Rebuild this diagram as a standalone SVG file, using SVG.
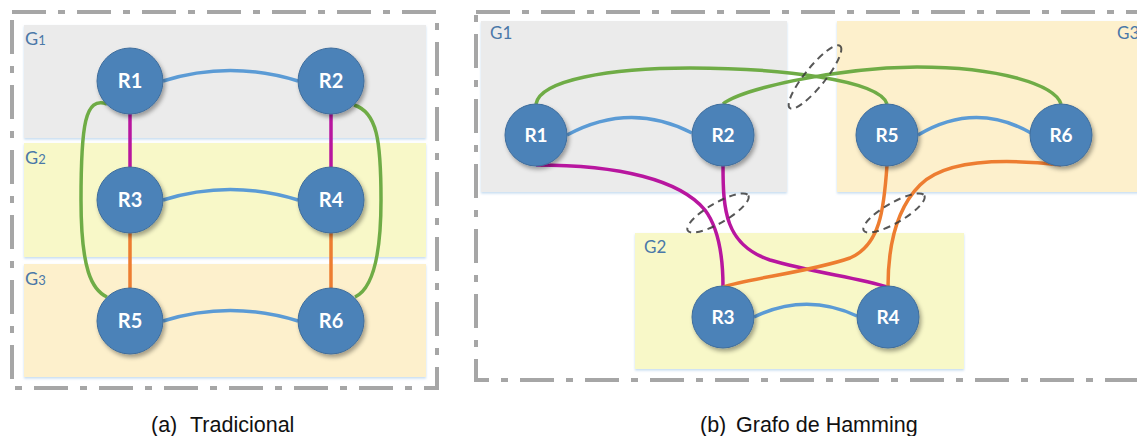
<svg xmlns="http://www.w3.org/2000/svg" width="1137" height="436" viewBox="0 0 1137 436">
  <style>
    .frame { fill: none; stroke: #a6a6a6; stroke-width: 4; stroke-dasharray: 34 12 7 12; }
    .band { filter: url(#bandShadow); }
    .g1 { fill: #ebebeb; }
    .g2 { fill: #f8f8c8; }
    .g3 { fill: #fdf0cc; }
    .glabel { font-family: Lato, "Open Sans", sans-serif; fill: #4a78a8; }
    .node circle { fill: #4b82b8; stroke: #3f6d9c; stroke-width: 1; filter: url(#nodeShadow); }
    .node text { font-family: Lato, "Open Sans", sans-serif; font-weight: bold; fill: #ffffff; text-anchor: middle; }
    .link { fill: none; stroke-width: 3.5; stroke-linecap: butt; }
    .blue { stroke: #5b9bd5; }
    .green { stroke: #6fac46; }
    .magenta { stroke: #b8169f; }
    .orange { stroke: #ed7d31; }
    .ring { fill: none; stroke: #3a3a3a; stroke-width: 2; stroke-dasharray: 7 5; opacity: 0.85; }
    .caption { font-family: "Liberation Sans", Arial, sans-serif; font-size: 21.5px; fill: #111111; }
  </style>
  <defs>
    <filter id="nodeShadow" x="-30%" y="-30%" width="170%" height="170%">
      <feDropShadow dx="2" dy="3" stdDeviation="2" flood-color="#000000" flood-opacity="0.35"/>
    </filter>
    <filter id="bandShadow" x="-5%" y="-10%" width="110%" height="125%">
      <feDropShadow dx="0" dy="1.5" stdDeviation="1" flood-color="#9dc3e6" flood-opacity="0.6"/>
    </filter>
  </defs>

  <rect width="1137" height="436" fill="#ffffff"/>

  <!-- (a) traditional layout -->
  <g id="panel-a">
    <rect class="frame" x="12" y="12" width="425" height="376"/>
    <g id="a-group-g1">
      <rect class="band g1" x="24" y="25" width="402" height="113"/>
      <text class="glabel" x="25" y="45" font-size="18">G<tspan font-size="13">1</tspan></text>
    </g>
    <g id="a-group-g2">
      <rect class="band g2" x="24" y="143" width="402" height="114"/>
      <text class="glabel" x="25" y="164" font-size="18">G<tspan font-size="13">2</tspan></text>
    </g>
    <g id="a-group-g3">
      <rect class="band g3" x="24" y="264" width="402" height="113"/>
      <text class="glabel" x="25" y="285" font-size="18">G<tspan font-size="13">3</tspan></text>
    </g>

    <g id="a-connectors">
      <path class="link blue" d="M163,81 Q230,60 298,81"/>
      <path class="link blue" d="M163,200 Q230,179 298,200"/>
      <path class="link blue" d="M163,321 Q230,300 298,321"/>
      <path class="link magenta" d="M130,114 L130,167"/>
      <path class="link magenta" d="M331,114 L331,167"/>
      <path class="link orange" d="M130,233 L130,288"/>
      <path class="link orange" d="M331,233 L331,288"/>
      <path class="link green" d="M107,104 C85,96 81,125 81,200 C81,270 92,290 107,297"/>
      <path class="link green" d="M354,105 C377,112 381,140 381,200 C381,265 370,290 355,297"/>
    </g>

    <g id="a-R1" class="node"><circle cx="130" cy="81" r="33"/><text x="130" y="88" font-size="20">R1</text></g>
    <g id="a-R2" class="node"><circle cx="331" cy="81" r="33"/><text x="331" y="88" font-size="20">R2</text></g>
    <g id="a-R3" class="node"><circle cx="130" cy="200" r="33"/><text x="130" y="207" font-size="20">R3</text></g>
    <g id="a-R4" class="node"><circle cx="331" cy="200" r="33"/><text x="331" y="207" font-size="20">R4</text></g>
    <g id="a-R5" class="node"><circle cx="130" cy="321" r="33"/><text x="130" y="328" font-size="20">R5</text></g>
    <g id="a-R6" class="node"><circle cx="331" cy="321" r="33"/><text x="331" y="328" font-size="20">R6</text></g>

    <text class="caption" y="432"><tspan x="151">(a)</tspan><tspan x="190">Tradicional</tspan></text>
  </g>

  <!-- (b) Hamming graph layout -->
  <g id="panel-b">
    <rect class="frame" x="476" y="12" width="700" height="368"/>
    <g id="b-group-g1">
      <rect class="band g1" x="481" y="21" width="306" height="171"/>
      <text class="glabel" x="490" y="39" font-size="17">G1</text>
    </g>
    <g id="b-group-g3">
      <rect class="band g3" x="837" y="21" width="320" height="171"/>
      <text class="glabel" x="1117" y="39" font-size="17">G3</text>
    </g>
    <g id="b-group-g2">
      <rect class="band g2" x="635" y="233" width="329" height="136"/>
      <text class="glabel" x="644" y="253" font-size="17">G2</text>
    </g>

    <g id="b-connectors">
      <path class="link blue" d="M567,135 Q630,101 692,133" stroke-width="3"/>
      <path class="link blue" d="M918,135 Q975,101 1031,133" stroke-width="3"/>
      <path class="link blue" d="M754,317 Q806,292 857,316" stroke-width="3"/>
      <path class="link green" d="M536,104 C540,80 610,68 690,68 C780,68 880,80 887,104" stroke-width="3"/>
      <path class="link green" d="M723,104 C740,90 830,68 917,67 C1000,67 1055,85 1061,104" stroke-width="3"/>
      <path class="link magenta" d="M536,165 C620,165 680,180 705,210 C720,230 723,260 723,287" stroke-width="3"/>
      <path class="link magenta" d="M723,165 C723,210 725,245 770,260 C810,272 860,278 887,287" stroke-width="3"/>
      <path class="link orange" d="M887,165 C884,210 880,245 850,258 C810,272 750,278 723,287" stroke-width="3"/>
      <path class="link orange" d="M1061,165 C1000,158 945,160 920,185 C895,210 888,250 888,287" stroke-width="3"/>
      <ellipse class="ring" cx="0" cy="0" rx="40" ry="10" transform="translate(815,77) rotate(-51)"/>
      <ellipse class="ring" cx="0" cy="0" rx="35" ry="10" transform="translate(718,213) rotate(-30)"/>
      <ellipse class="ring" cx="0" cy="0" rx="35" ry="10" transform="translate(894,213) rotate(-30)"/>
    </g>

    <g id="b-R1" class="node"><circle cx="536" cy="135" r="31"/><text x="536" y="142" font-size="19">R1</text></g>
    <g id="b-R2" class="node"><circle cx="723" cy="135" r="31"/><text x="723" y="142" font-size="19">R2</text></g>
    <g id="b-R5" class="node"><circle cx="887" cy="135" r="31"/><text x="887" y="142" font-size="19">R5</text></g>
    <g id="b-R6" class="node"><circle cx="1061" cy="135" r="31"/><text x="1061" y="142" font-size="19">R6</text></g>
    <g id="b-R3" class="node"><circle cx="723" cy="317" r="31"/><text x="723" y="324" font-size="19">R3</text></g>
    <g id="b-R4" class="node"><circle cx="888" cy="317" r="31"/><text x="888" y="324" font-size="19">R4</text></g>

    <text class="caption" y="432"><tspan x="700">(b)</tspan><tspan x="736">Grafo de Hamming</tspan></text>
  </g>
</svg>
